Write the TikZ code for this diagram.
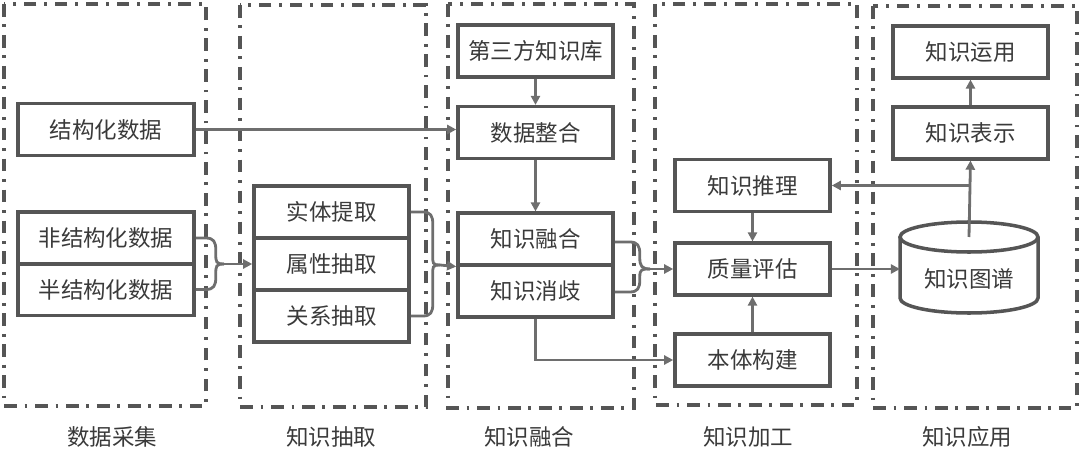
\documentclass[tikz,border=0pt]{standalone}
\usepackage{fontspec}
\usetikzlibrary{arrows.meta}
\newfontfamily\cjk{Noto Sans CJK SC}
\definecolor{boxgray}{HTML}{555555}
\definecolor{arrgray}{HTML}{6E6E6E}
\definecolor{txtgray}{HTML}{3A3A3A}
\begin{document}
\begin{tikzpicture}[x=0.025cm,y=-0.025cm,
    box/.style={draw=boxgray,line width=2.5pt,text=txtgray,font=\cjk\fontsize{16}{18}\selectfont,
      minimum width=3.875cm,minimum height=1.29cm,inner sep=0pt},
    widebox/.style={box,minimum width=4.4cm},
    frame/.style={draw=boxgray,line width=2.4pt,dash pattern=on 9pt off 5.5pt on 2pt off 5.5pt},
    lab/.style={text=txtgray,font=\cjk\fontsize{16}{18}\selectfont},
    arr/.style={draw=arrgray,line width=2pt,-{Triangle[length=6.5pt,width=6.5pt]}},
    lnk/.style={draw=arrgray,line width=2pt}]
  \useasboundingbox (0,0) rectangle (1080,453);
  % stage frames
  \draw [frame] (4,4) rectangle (206,406);
  \draw [frame] (240,5) rectangle (426,407);
  \draw [frame] (448,4) rectangle (634,408);
  \draw [frame] (655,4) rectangle (857,405);
  \draw [frame] (873,6) rectangle (1077,408);
  % stage names
  \node [lab] (collect) at (112,437) {数据采集};
  \node [lab] (extract) at (331,437) {知识抽取};
  \node [lab] (merge) at (529,437) {知识融合};
  \node [lab] (process) at (748,437) {知识加工};
  \node [lab] (use) at (967,437) {知识应用};
  % boxes
  \node [widebox] (struct) at (106,129.5) {结构化数据};
  \node [widebox] (unstr) at (106,238) {非结构化数据};
  \node [widebox] (semi) at (106,289.5) {半结构化数据};
  \node [box] (entity) at (331.5,212) {实体提取};
  \node [box] (attr) at (331.5,264) {属性抽取};
  \node [box] (rel) at (331.5,316) {关系抽取};
  \node [box] (third) at (535.5,51) {第三方知识库};
  \node [box] (integ) at (535.5,132.5) {数据整合};
  \node [box] (fuse) at (535.5,239) {知识融合};
  \node [box] (disamb) at (535.5,291) {知识消歧};
  \node [box] (reason) at (752.5,185.5) {知识推理};
  \node [box] (quality) at (752.5,269) {质量评估};
  \node [box] (onto) at (752.5,360) {本体构建};
  \node [box] (apply) at (970.5,52) {知识运用};
  \node [box] (rep) at (970.5,133) {知识表示};
  % knowledge graph store
  \draw [draw=boxgray,line width=2.5pt] (900,237) -- (900,298)
    arc [start angle=180,end angle=0,x radius=69,y radius=15] -- (1038,237);
  \draw [draw=boxgray,line width=2.5pt] (969,237) ellipse [x radius=69,y radius=15];
  \node [lab] (kg) at (969,279) {知识图谱};
  \coordinate (kgtop) at (969,237);
  \coordinate (kgwest) at (900,269);
  % joins
  \coordinate (j1) at (224,264);
  \coordinate (j2) at (440,265);
  \coordinate (j3) at (650,269);
  \draw [lnk] (unstr.east) -- ++(10,0) .. controls +(8,0) and +(0,-8) .. ++(10,12)
    -- ++(0,4) .. controls +(0,8) and +(-8,0) .. (j1);
  \draw [lnk] (semi.east) -- ++(10,0) .. controls +(8,0) and +(0,8) .. ++(10,-12)
    -- ++(0,-3.5) .. controls +(0,-8) and +(-8,0) .. (j1);
  \draw [arr] (j1) -- (attr.west);
  \draw [lnk] (entity.east) -- ++(12,0) .. controls +(8,0) and +(0,-8) .. ++(10,12)
    -- ++(0,31) .. controls +(0,8) and +(-8,0) .. (j2);
  \draw [lnk] (rel.east) -- ++(12,0) .. controls +(8,0) and +(0,8) .. ++(10,-12)
    -- ++(0,-29) .. controls +(0,-8) and +(-8,0) .. (j2);
  \draw [arr] (j2) -- (fuse.south west);
  \draw [lnk] (fuse.east) ++(0,3) -- ++(15,0) .. controls +(8,0) and +(0,-8) .. ++(10,12)
    -- ++(0,4) .. controls +(0,8) and +(-8,0) .. (j3);
  \draw [lnk] (disamb.east) ++(0,1) -- ++(15,0) .. controls +(8,0) and +(0,8) .. ++(10,-12)
    -- ++(0,-3) .. controls +(0,-8) and +(-8,0) .. (j3);
  \draw [arr] (j3) -- (quality.west);
  % arrows
  \draw [arr] (struct.east) -- (struct.east -| integ.west);
  \draw [arr] (third.south) -- (integ.north);
  \draw [arr] (integ.south) -- (fuse.north);
  \draw [arr] (disamb.south) |- (onto.west);
  \draw [arr] (reason.south) -- (quality.north);
  \draw [arr] (onto.north) -- (quality.south);
  \draw [arr] (quality.east) -- (kgwest);
  \draw [arr] (kgtop) -- (rep.south);
  \draw [arr] (kgtop |- reason.east) -- (reason.east);
  \draw [arr] (rep.north) -- (apply.south);
\end{tikzpicture}
\end{document}
